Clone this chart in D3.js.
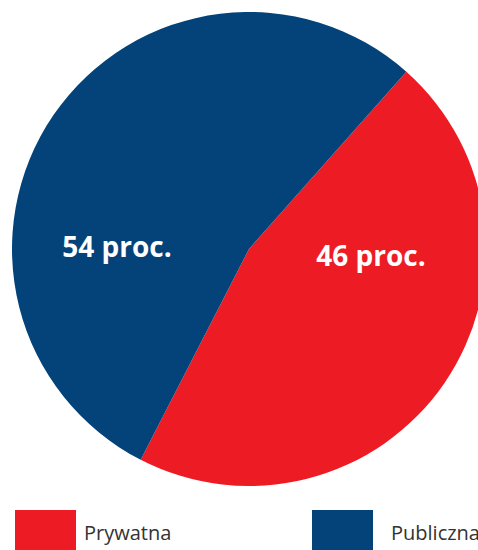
<!DOCTYPE html>
<html><head><meta charset="utf-8">
<script src="https://cdn.jsdelivr.net/npm/d3@7"></script>
<style>body{margin:0;background:#fff}svg{display:block}</style>
</head><body>
<svg id="c" width="478" height="550"></svg>
<script>
const categories = ["Prywatna", "Publiczna"];
const values = [46, 54];
const labels = ["46 proc.", "54 proc."];
const colors = ["#ED1C24", "#03437A"];

const svg = d3.select("#c");
const cx = 249, cy = 249, R = 237;
const start = 41.6 * Math.PI / 180;
const pie = d3.pie().sort(null).value(d => d).startAngle(start).endAngle(start + 2 * Math.PI);
const arcs = pie(values);
const arc = d3.arc().innerRadius(0).outerRadius(R);
const g = svg.append("g").attr("transform", `translate(${cx},${cy})`);
g.selectAll("path").data(arcs).join("path").attr("d", arc).attr("fill", (d, i) => colors[i]);

const labelPos = [[122, 17], [-132, 8]];
g.selectAll("text").data(arcs).join("text")
  .attr("x", (d, i) => labelPos[i][0]).attr("y", (d, i) => labelPos[i][1])
  .attr("text-anchor", "middle")
  .attr("font-family", "'Open Sans', sans-serif").attr("font-weight", "bold")
  .attr("font-size", 28).attr("fill", "#fff")
  .text((d, i) => labels[i]);

const legX = [15, 312];
const legTextDx = [69, 79];
const lg = svg.selectAll("g.leg").data(categories).join("g").attr("class", "leg")
  .attr("transform", (d, i) => `translate(${legX[i]},510)`);
lg.append("rect").attr("width", 61).attr("height", 40).attr("fill", (d, i) => colors[i]);
lg.append("text").attr("x", (d, i) => legTextDx[i]).attr("y", 30)
  .attr("font-family", "'Open Sans', sans-serif").attr("font-size", 20).attr("fill", "#333")
  .text(d => d);
</script>
</body></html>
